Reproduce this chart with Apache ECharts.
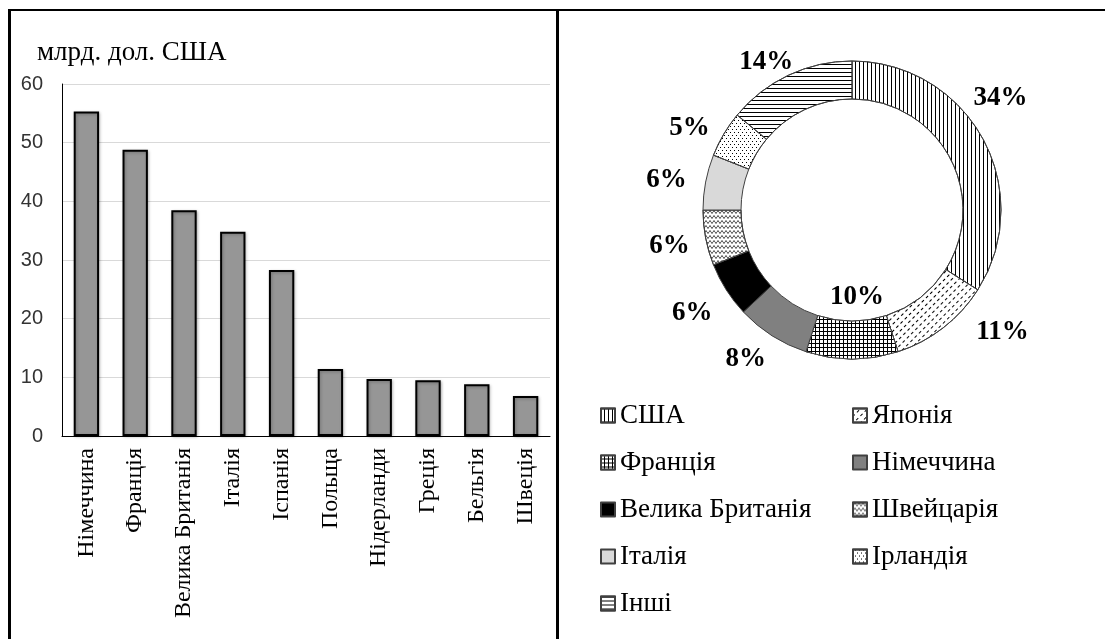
<!DOCTYPE html>
<html>
<head>
<meta charset="utf-8">
<script src="https://cdn.jsdelivr.net/npm/echarts@6/dist/echarts.min.js"></script>
<style>
  html, body { margin: 0; padding: 0; background: #fff; }
  #main { position: absolute; left: 0; top: 0; width: 1105px; height: 639px; }
  .frame { position: absolute; pointer-events: none; box-sizing: border-box; }
  #frameLeft { left: 8px; top: 9px; width: 551px; height: 640px;
    border-left: 3px solid #000; border-top: 2px solid #000; border-right: 3px solid #000; }
  #frameRight { left: 559px; top: 9px; width: 546px; height: 640px; border-top: 2px solid #000; }
</style>
</head>
<body>
<div id="main"></div>
<div id="frameLeft" class="frame"></div>
<div id="frameRight" class="frame"></div>
<script>
// bar chart data (млрд. дол. США)
var countries = ['Німеччина', 'Франція', 'Велика Британія', 'Італія', 'Іспанія', 'Польща', 'Нідерланди', 'Греція', 'Бельгія', 'Швеція'];
var amounts = [55.3, 48.8, 38.5, 34.8, 28.3, 11.4, 9.7, 9.5, 8.8, 6.8];

// donut data (%)
var shareNames = ['США', 'Японія', 'Франція', 'Німеччина', 'Велика Британія', 'Швейцарія', 'Італія', 'Ірландія', 'Інші'];
var shareValues = [34, 11, 10, 8, 6, 6, 6, 5, 14];

var legendCol1 = ['США', 'Франція', 'Велика Британія', 'Італія', 'Інші'];
var legendCol2 = ['Японія', 'Німеччина', 'Швейцарія', 'Ірландія'];

var serif = 'Liberation Serif';

// fill styles for the donut, in the order of shareNames
var sliceStyles = [
    { color: '#fff', decal: { symbol: 'rect', dashArrayX: [1, 0], dashArrayY: [1, 3], rotation: Math.PI / 2, color: '#000' } },
    { color: '#fff', decal: { symbol: 'rect', dashArrayX: [3, 3], dashArrayY: [1, 4], rotation: -Math.PI / 4, color: '#000' } },
    { color: '#000', decal: { symbol: 'rect', dashArrayX: [3, 1], dashArrayY: [3, 1], color: '#fff' } },
    { color: '#808080' },
    { color: '#000' },
    { color: '#fff', decal: { symbol: 'path://M0,3 L2,0 L4,3 L6,0 L8,3 L8,4 L6,1 L4,4 L2,1 L0,4 Z', dashArrayX: [8, 0], dashArrayY: [4, 1], color: '#000' } },
    { color: '#d9d9d9' },
    { color: '#fff', decal: { symbol: 'rect', dashArrayX: [[1, 3], [0, 2, 1, 1]], dashArrayY: [1, 2], color: '#000' } },
    { color: '#fff', decal: { symbol: 'rect', dashArrayX: [1, 0], dashArrayY: [1, 3], color: '#000' } }
];

// small label nudges (Excel "best fit" placement)
var labelNudge = [[-21, -36], [23, -2], [-27, -70], [3, 16], [-2, 19], [-3, 7], [-6, -1], [-2, -2], [13, -6]];

var pieData = shareNames.map(function (n, i) {
    return { name: n, value: shareValues[i], itemStyle: sliceStyles[i] };
});

var myChart = echarts.init(document.getElementById('main'));
var option = {
    animation: false,
    title: {
        text: 'млрд. дол. США',
        left: 32, top: 34,
        textStyle: { fontFamily: serif, fontSize: 27, fontWeight: 'normal', color: '#000' }
    },
    grid: { left: 62, right: 555, top: 84, bottom: 203 },
    xAxis: {
        type: 'category',
        data: countries,
        axisLine: { lineStyle: { color: '#000', width: 1 } },
        axisTick: { show: false },
        axisLabel: { rotate: 90, margin: 12, fontFamily: serif, fontSize: 24, color: '#000', interval: 0 }
    },
    yAxis: {
        type: 'value',
        min: 0, max: 60, interval: 10,
        axisLine: { show: true, lineStyle: { color: '#000', width: 1 } },
        axisLabel: { margin: 19, fontFamily: 'Liberation Sans', fontSize: 20, color: '#333' },
        splitLine: { lineStyle: { color: '#d9d9d9' } }
    },
    legend: [
        {
            orient: 'vertical', left: 600, top: 402, itemGap: 20, padding: 0,
            itemWidth: 14, itemHeight: 14, icon: 'rect',
            data: legendCol1,
            textStyle: { fontFamily: serif, fontSize: 27, color: '#000' }
        },
        {
            orient: 'vertical', left: 852, top: 402, itemGap: 20, padding: 0,
            itemWidth: 14, itemHeight: 14, icon: 'rect',
            data: legendCol2,
            textStyle: { fontFamily: serif, fontSize: 27, color: '#000' }
        }
    ],
    series: [
        {
            type: 'bar',
            data: amounts,
            barWidth: '52%',
            itemStyle: {
                color: '#969696', borderColor: '#000', borderWidth: 2,
                shadowBlur: 3, shadowColor: 'rgba(0,0,0,0.25)', shadowOffsetX: 1, shadowOffsetY: 1
            },
            emphasis: { disabled: true }
        },
        {
            type: 'pie',
            center: [852, 210],
            radius: [111, 149],
            startAngle: 90,
            clockwise: true,
            data: pieData,
            itemStyle: { borderColor: '#404040', borderWidth: 1 },
            label: {
                position: 'outside',
                formatter: '{c}%',
                fontFamily: serif, fontSize: 27, fontWeight: 'bold', color: '#000'
            },
            labelLine: { show: false, length: 8, length2: 0 },
            labelLayout: function (p) {
                var n = labelNudge[p.dataIndex];
                return { dx: n[0], dy: n[1] };
            },
            emphasis: { disabled: true }
        }
    ]
};
myChart.setOption(option);
window.onresize = myChart.resize;
</script>
</body>
</html>
